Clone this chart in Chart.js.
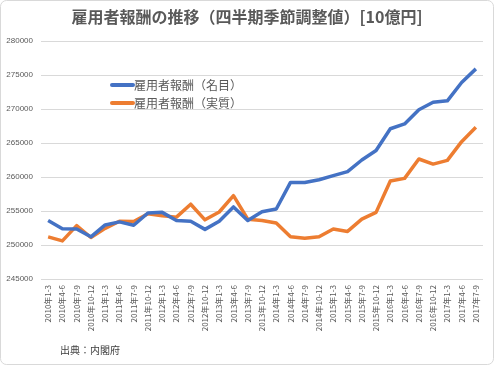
<!DOCTYPE html>
<html>
<head>
<meta charset="utf-8">
<script src="https://cdn.jsdelivr.net/npm/chart.js@4"></script>
<style>
  body { margin: 0; background: #fff; }
  #wrap { width: 494px; height: 365px; }
</style>
</head>
<body>
<div id="wrap"><canvas id="LineChart" width="494" height="365"></canvas></div>
<script>
const JP = '"Noto Sans CJK JP", "Noto Sans", sans-serif';

const quarters = ["1-3", "4-6", "7-9", "10-12"];
const labels = [];
for (let y = 2010; y <= 2017; y++) {
  quarters.forEach(q => {
    if (y === 2017 && q === "10-12") return;
    labels.push(y + "年" + q);
  });
}

// 名目 / 実質 (10億円)
const nominal = [253600, 252400, 252350, 251200, 252950, 253400, 252900, 254700, 254800, 253600,
                 253500, 252300, 253500, 255600, 253600, 254900, 255300, 259200, 259200, 259600,
                 260200, 260800, 262500, 263900, 267100, 267800, 269900, 271000, 271200, 273900, 275900];
const real = [251200, 250600, 252850, 251100, 252450, 253500, 253450, 254600, 254300, 254100,
              256000, 253700, 254850, 257250, 253800, 253600, 253250, 251200, 251000, 251200,
              252350, 252000, 253800, 254800, 259400, 259800, 262650, 261900, 262450, 265200, 267300];

const seriesNames = ["雇用者報酬（名目）", "雇用者報酬（実質）"];
const yMin = 245000, yMax = 280000, yStep = 5000;

// frame, title, legend and source drawn on the canvas
const decor = {
  id: 'decor',
  beforeDraw(c) {
    const ctx = c.ctx;
    ctx.save();
    ctx.fillStyle = '#fff';
    ctx.fillRect(0, 0, c.width, c.height);
    ctx.strokeStyle = '#d9d9d9';
    ctx.lineWidth = 1;
    ctx.beginPath();
    ctx.roundRect(0.5, 0.5, c.width - 1, c.height - 1, 6);
    ctx.stroke();
    ctx.restore();
  },
  afterDraw(c) {
    const ctx = c.ctx;
    ctx.save();
    ctx.fillStyle = '#595959';
    ctx.font = 'bold 16px ' + JP;
    ctx.textAlign = 'center';
    ctx.textBaseline = 'middle';
    ctx.fillText("雇用者報酬の推移（四半期季節調整値）[10億円]", 247, 17);

    ctx.font = '12px ' + JP;
    ctx.textAlign = 'left';
    c.data.datasets.forEach((ds, i) => {
      const y = 85 + i * 18;
      ctx.strokeStyle = ds.borderColor;
      ctx.lineWidth = 4;
      ctx.lineCap = 'round';
      ctx.beginPath();
      ctx.moveTo(112, y);
      ctx.lineTo(133, y);
      ctx.stroke();
      ctx.fillText(ds.label, 134, y);
    });

    ctx.fillStyle = '#404040';
    ctx.font = '10px ' + JP;
    ctx.fillText("出典：内閣府", 60, 350);
    ctx.restore();
  }
};

new Chart(document.getElementById('LineChart'), {
  type: 'line',
  data: {
    labels: labels,
    datasets: [
      { label: seriesNames[0], data: nominal, borderColor: '#4472C4', backgroundColor: '#4472C4' },
      { label: seriesNames[1], data: real, borderColor: '#ED7D31', backgroundColor: '#ED7D31' }
    ]
  },
  options: {
    responsive: false,
    animation: false,
    layout: { padding: { top: 41, right: 11, left: 0, bottom: 0 } },
    elements: {
      line: { borderWidth: 3.5, tension: 0, borderJoinStyle: 'round' },
      point: { radius: 0 }
    },
    plugins: { legend: { display: false }, tooltip: { enabled: false } },
    scales: {
      x: {
        offset: true,
        grid: { display: false, drawTicks: false },
        border: { display: false },
        ticks: {
          autoSkip: false, minRotation: 90, maxRotation: 90, padding: 6,
          color: '#595959', font: { size: 8, family: JP }
        },
        afterFit(s) { s.height = 86; }
      },
      y: {
        min: yMin, max: yMax,
        grid: { color: '#d9d9d9', drawTicks: false },
        border: { display: false },
        ticks: {
          stepSize: yStep, padding: 8,
          color: '#595959', font: { size: 8, family: '"Liberation Sans", sans-serif' },
          callback: v => String(v)
        },
        afterFit(s) { s.width = 41; }
      }
    }
  },
  plugins: [decor]
});
</script>
</body>
</html>
